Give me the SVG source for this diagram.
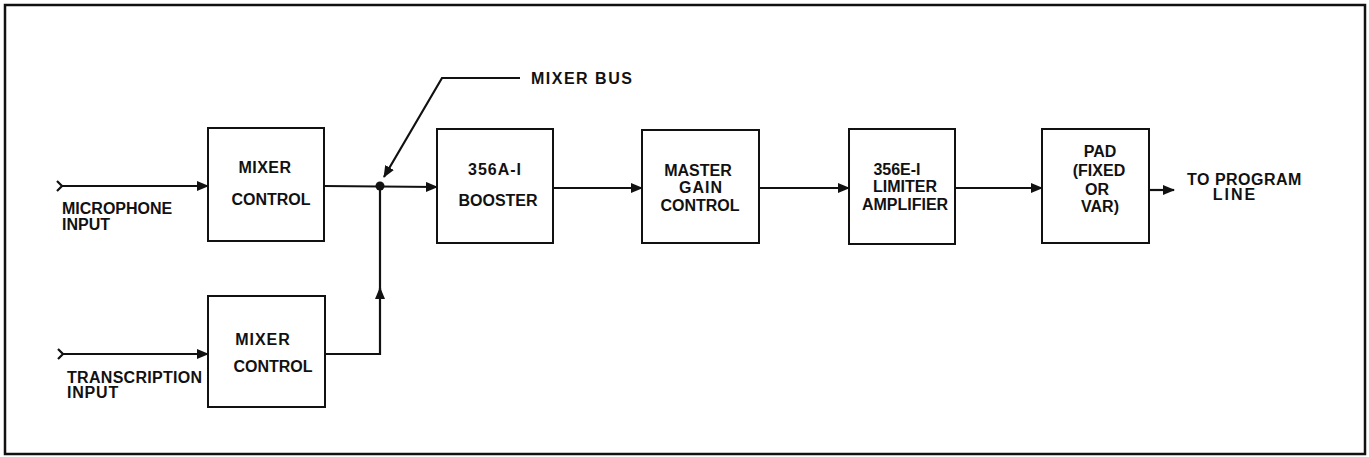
<svg xmlns="http://www.w3.org/2000/svg" width="1369" height="457" viewBox="0 0 1369 457">
<defs>
<style>
.b{fill:#fff;stroke:#111;stroke-width:2}
.w{fill:none;stroke:#111;stroke-width:2.2}
text{font-family:"Liberation Sans",Arial,sans-serif;font-weight:bold;font-size:16px;fill:#111}
.m{text-anchor:middle}
</style>
<marker id="ah" viewBox="0 0 12 10" refX="11" refY="5" markerWidth="12" markerHeight="10" markerUnits="userSpaceOnUse" orient="auto">
<path d="M0,0 L12,5 L0,10 Z" fill="#111"/>
</marker>
</defs>
<rect x="5" y="5" width="1360" height="449" fill="#fff" stroke="#111" stroke-width="2.5"/>
<g id="connectors">
<path class="w" d="M57,181 L62,186 L57,191" />
<line class="w" x1="61" y1="186" x2="208" y2="186" marker-end="url(#ah)"/>
<path class="w" d="M58,349 L63,354 L58,359" />
<line class="w" x1="62" y1="354" x2="208" y2="354" marker-end="url(#ah)"/>
<line class="w" x1="324" y1="186" x2="437" y2="187" marker-end="url(#ah)"/>
<path class="w" d="M325,354 L380,354 L380,288" marker-end="url(#ah)"/>
<line class="w" x1="380" y1="292" x2="380" y2="187"/>
<circle cx="380" cy="186" r="4.5" fill="#111"/>
<line class="w" x1="553" y1="188" x2="642" y2="188" marker-end="url(#ah)"/>
<line class="w" x1="759" y1="188" x2="849" y2="188" marker-end="url(#ah)"/>
<line class="w" x1="955" y1="188" x2="1042" y2="188" marker-end="url(#ah)"/>
<line class="w" x1="1149" y1="190" x2="1174" y2="190" marker-end="url(#ah)"/>
<path class="w" d="M520,78 L442,78 L384,177" marker-end="url(#ah)"/>
</g>
<g id="mic-label"><text x="62" y="214">MICROPHONE</text><text x="62" y="230">INPUT</text></g>
<g id="trans-label"><text x="67" y="383" letter-spacing="0.3">TRANSCRIPTION</text><text x="67" y="398" letter-spacing="0.8">INPUT</text></g>
<g id="mixer-bus-label"><text x="531" y="84" letter-spacing="1.5">MIXER  BUS</text></g>
<g id="mixer1"><rect class="b" x="208" y="128" width="116" height="113"/><text class="m" x="265" y="173" letter-spacing="0.5">MIXER</text><text class="m" x="271" y="205">CONTROL</text></g>
<g id="mixer2"><rect class="b" x="208" y="296" width="117" height="111"/><text class="m" x="263" y="345" letter-spacing="1">MIXER</text><text class="m" x="273" y="372">CONTROL</text></g>
<g id="booster"><rect class="b" x="437" y="129" width="116" height="114"/><text class="m" x="495" y="175" letter-spacing="1">356A-I</text><text class="m" x="498" y="206">BOOSTER</text></g>
<g id="master"><rect class="b" x="642" y="130" width="117" height="113"/><text class="m" x="698" y="176">MASTER</text><text class="m" x="701" y="193" letter-spacing="1">GAIN</text><text class="m" x="700" y="211">CONTROL</text></g>
<g id="limiter"><rect class="b" x="849" y="129" width="106" height="115"/><text class="m" x="897" y="175">356E-I</text><text class="m" x="905" y="192">LIMITER</text><text class="m" x="905" y="210">AMPLIFIER</text></g>
<g id="pad"><rect class="b" x="1042" y="129" width="107" height="114"/><text class="m" x="1100" y="157">PAD</text><text class="m" x="1099" y="176">(FIXED</text><text class="m" x="1097" y="195">OR</text><text class="m" x="1100" y="212">VAR)</text></g>
<g id="out-label"><text x="1187" y="185" letter-spacing="0.5">TO PROGRAM</text><text class="m" x="1235" y="200" letter-spacing="2">LINE</text></g>
</svg>
